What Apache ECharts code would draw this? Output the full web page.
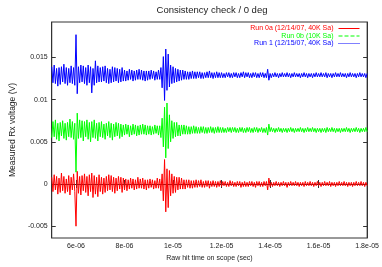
<!DOCTYPE html>
<html>
<head>
<meta charset="utf-8">
<script src="https://cdn.jsdelivr.net/npm/echarts@6/dist/echarts.min.js"></script>
<style>
html,body{margin:0;padding:0;background:#fff;}
#c{width:382px;height:267px;}
</style>
</head>
<body>
<div id="c"></div>
<script>
// ---- data ----
// sample times: start 5e-6 s, spacing 0.05e-6 s
var timeStartSec = 5e-6;
var timeStepSec = 0.05e-6;
var seriesNames = ['Run 0a (12/14/07, 40K Sa)', 'Run 0b (10K Sa)', 'Run 1 (12/15/07, 40K Sa)'];
// DC level of each trace (V)
var seriesOffsetsV = [0.0, 0.0064, 0.0129];
// trace deviations from DC level, in units of 0.1 mV
var run0aDev = [
 8,-9,11,-7,9,-12,7,-10,13,-8,9,-11,6,-9,10,-13,8,-7,12,-9,
 -50,15,-11,9,-13,10,-8,12,-10,9,-14,11,-9,13,-16,10,-12,8,-15,11,
 -9,8,-12,7,-10,9,-8,11,-7,10,-9,8,-11,7,-8,9,-6,8,-10,7,
 -7,6,-8,5,-6,7,-5,6,-7,5,-6,8,-5,6,-5,7,-6,5,-7,5,
 -5,6,-4,5,-6,4,-5,7,-5,6,-8,12,-20,29,-33,18,-28,16,-14,12,
 -11,9,-10,8,-7,8,-6,7,-6,5,-6,5,-4,5,-5,4,-5,4,-4,5,
 -4,4,-3,5,-4,3,-4,4,-3,4,-5,3,-3,4,-3,3,-4,3,-3,4,
 -3,3,-2,3,-3,2,-3,4,-2,3,-3,2,-3,3,-2,3,-4,2,-3,3,
 -3,2,-3,3,-2,3,-3,2,-4,3,-2,3,-3,2,-3,3,-2,3,-7,7,
 -3,2,-3,2,-2,3,-2,2,-3,2,-2,3,-2,2,-4,2,-2,3,-2,2,
 -2,3,-2,2,-3,2,-2,2,-3,3,-2,2,-2,3,-2,2,-3,2,-2,3,
 -2,2,-3,2,-2,3,-2,2,-2,3,-3,2,-2,2,-3,2,-2,3,-2,2,
 -2,3,-2,2,-3,2,-2,2,-3,2,-2,3,-2,2,-2,3,-2,2,-3,2,-2
];
var run0bDev = [
 -9,10,-8,12,-11,8,-13,9,-7,11,-10,8,-12,9,-8,13,-9,10,-11,8,
 -50,20,-10,12,-9,11,-13,10,-8,12,-11,9,-14,10,-9,12,-10,8,-13,9,
 -8,10,-9,7,-11,8,-7,10,-9,8,-12,7,-8,9,-7,8,-10,7,-8,6,
 -6,7,-5,6,-8,5,-6,7,-5,6,-7,5,-6,6,-5,7,-5,6,-6,5,
 -5,5,-6,4,-5,6,-4,5,-6,5,-9,14,-20,27,-33,32,-22,18,-14,11,
 -10,9,-8,9,-7,6,-7,6,-5,6,-5,5,-5,4,-5,4,-4,5,-4,4,
 -4,3,-4,4,-3,4,-4,3,-4,3,-3,4,-3,3,-4,3,-3,4,-3,3,
 -3,3,-3,2,-3,3,-2,3,-3,3,-2,3,-3,2,-3,3,-2,3,-3,2,
 -3,3,-2,3,-3,2,-3,3,-2,3,-3,2,-2,3,-3,2,-3,3,-6,7,
 -2,3,-2,2,-3,2,-2,3,-2,2,-3,2,-2,2,-3,2,-2,3,-2,2,
 -3,2,-2,2,-2,3,-2,2,-3,2,-2,3,-2,2,-2,3,-2,2,-3,2,
 -2,2,-3,2,-2,2,-3,3,-2,2,-2,3,-2,2,-3,2,-2,2,-3,2,
 -2,2,-2,3,-2,2,-3,2,-2,2,-2,3,-2,2,-3,2,-2,2,-2,3,-2
];
var run1Dev = [
 10,-9,12,-10,8,-13,9,-11,10,-8,13,-10,9,-12,8,-9,11,-10,9,-12,
 48,-22,10,-9,12,-8,11,-10,9,-12,12,-9,10,-21,8,-12,17,-9,11,-8,
 9,-8,10,-7,11,-9,8,-10,7,-9,10,-8,9,-7,8,-9,7,-8,9,-7,
 6,-7,5,-6,7,-5,6,-7,5,-6,6,-5,7,-5,6,-6,5,-7,5,-6,
 5,-5,6,-4,5,-6,4,-5,6,-5,9,-15,22,-30,31,-18,25,-14,12,-10,
 10,-9,8,-8,7,-7,6,-6,6,-5,5,-5,4,-5,4,-4,5,-4,4,-4,
 4,-3,4,-4,3,-4,3,-3,4,-3,5,-3,3,-4,3,-3,4,-3,3,-3,
 3,-3,2,-3,3,-2,3,-3,2,-3,3,-2,3,-3,2,-3,3,-2,4,-3,
 3,-2,3,-3,2,-3,3,-2,3,-3,2,-3,3,-2,3,-3,2,-3,7,-6,
 2,-3,2,-2,3,-2,2,-3,2,-2,3,-2,2,-2,3,-2,2,-3,2,-2,
 3,-2,2,-2,2,-3,2,-2,3,-2,2,-3,2,-2,2,-3,2,-2,3,-2,
 2,-2,3,-2,2,-2,3,-3,2,-2,2,-3,2,-2,3,-2,2,-2,3,-2,
 2,-2,2,-3,2,-2,3,-2,2,-2,2,-3,2,-2,3,-2,2,-2,2,-3,2
];
var seriesColors = ['#ff0000', '#00ff00', '#0000ff'];
var legendLineTypes = ['solid', 'dashed', 'dotted'];
var xTickValues = [6e-6, 8e-6, 1e-5, 1.2e-5, 1.4e-5, 1.6e-5, 1.8e-5];
var xTickLabels = ['6e-06', '8e-06', '1e-05', '1.2e-05', '1.4e-05', '1.6e-05', '1.8e-05'];
var yTickValues = [-0.005, 0, 0.005, 0.01, 0.015];
var yTickLabels = ['-0.005', '0', '0.005', '0.01', '0.015'];
var xRange = [5e-6, 1.8e-5];
var yRange = [-0.0064, 0.0192];

// ---- build ----
function buildData(dev, offset) {
  var out = [];
  for (var i = 0; i < dev.length; i++) {
    out.push([timeStartSec + i * timeStepSec, offset + dev[i] * 1e-4]);
  }
  return out;
}
var devs = [run0aDev, run0bDev, run1Dev];
function labelFor(values, labels) {
  return function (v) {
    for (var i = 0; i < values.length; i++) {
      if (Math.abs(v - values[i]) < Math.abs(values[1] - values[0]) * 1e-3) return labels[i];
    }
    return '';
  };
}
var FONT = 'Liberation Sans';
var axisColor = '#333';
var chart = echarts.init(document.getElementById('c'), null, {renderer: 'canvas'});
var series = devs.map(function (d, k) {
  return {
    name: seriesNames[k],
    type: 'line',
    data: buildData(d, seriesOffsetsV[k]),
    showSymbol: false,
    symbol: 'none',
    animation: false,
    lineStyle: {color: seriesColors[k], width: 1},
    itemStyle: {color: seriesColors[k]},
    xAxisIndex: 0,
    yAxisIndex: 0
  };
});
var commonTick = {show: true, inside: true, length: 4, lineStyle: {color: axisColor, width: 1}};
chart.setOption({
  animation: false,
  title: {
    text: 'Consistency check / 0 deg',
    left: 207, top: 0, textAlign: 'center',
    textStyle: {fontFamily: FONT, fontSize: 9.5, fontWeight: 'normal', color: '#222'}
  },
  legend: {
    orient: 'vertical', right: 22, top: 25, align: 'right',
    itemWidth: 21, itemHeight: 7, itemGap: 0.5, padding: [0, 0, 0, 0],
    textStyle: {fontFamily: FONT, fontSize: 7},
    data: seriesNames.map(function (n, k) {
      return {name: n, textStyle: {color: seriesColors[k]},
        itemStyle: {opacity: 0, borderWidth: 0},
        lineStyle: {type: legendLineTypes[k], width: 1, color: seriesColors[k], opacity: 1}};
    })
  },
  grid: {left: 46, right: 13, top: 22, bottom: 23, show: true, borderColor: axisColor, borderWidth: 1},
  xAxis: [{
    type: 'value', min: xRange[0], max: xRange[1],
    name: 'Raw hit time on scope (sec)', nameLocation: 'middle', nameGap: 17,
    nameTextStyle: {fontFamily: FONT, fontSize: 7, color: '#222'},
    axisLine: {show: true, lineStyle: {color: axisColor}},
    axisTick: Object.assign({customValues: xTickValues}, commonTick),
    axisLabel: {customValues: xTickValues, formatter: labelFor(xTickValues, xTickLabels),
      fontFamily: FONT, fontSize: 7, color: '#222', margin: 5},
    splitLine: {show: false}
  }, {
    type: 'value', min: xRange[0], max: xRange[1], position: 'top',
    axisLine: {show: true, lineStyle: {color: axisColor}},
    axisTick: Object.assign({customValues: xTickValues}, commonTick),
    axisLabel: {show: false}, splitLine: {show: false}
  }],
  yAxis: [{
    type: 'value', min: yRange[0], max: yRange[1],
    name: 'Measured Rx voltage (V)', nameLocation: 'middle', nameGap: 34, nameRotate: 90,
    nameTextStyle: {fontFamily: FONT, fontSize: 8.5, color: '#222'},
    axisLine: {show: true, lineStyle: {color: axisColor}},
    axisTick: Object.assign({customValues: yTickValues}, commonTick),
    axisLabel: {customValues: yTickValues, formatter: labelFor(yTickValues, yTickLabels),
      fontFamily: FONT, fontSize: 7, color: '#222', margin: 4},
    splitLine: {show: false}
  }, {
    type: 'value', min: yRange[0], max: yRange[1], position: 'right',
    axisLine: {show: true, lineStyle: {color: axisColor}},
    axisTick: Object.assign({customValues: yTickValues}, commonTick),
    axisLabel: {show: false}, splitLine: {show: false}
  }],
  series: series
});
</script>
</body>
</html>
